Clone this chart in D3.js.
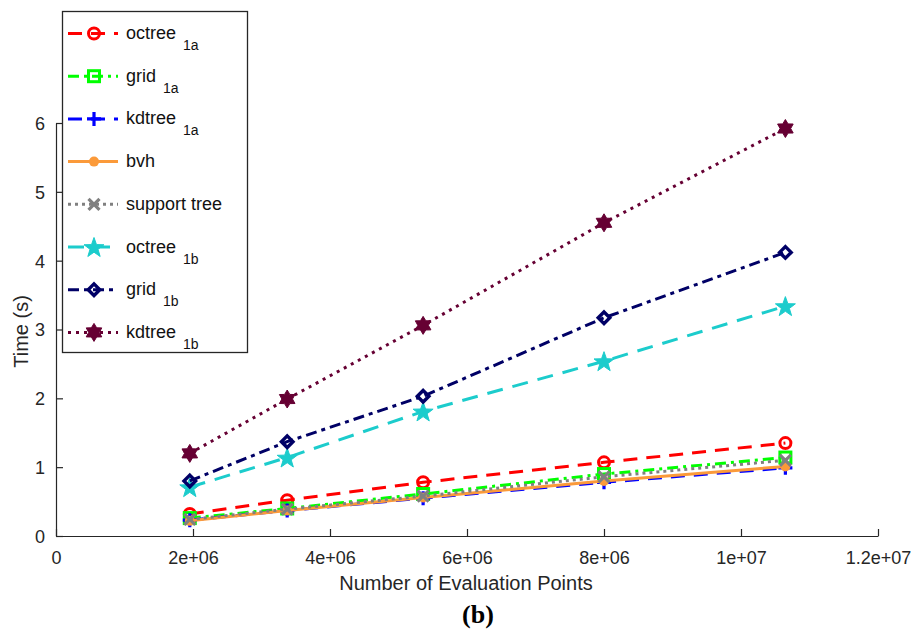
<!DOCTYPE html>
<html>
<head>
<meta charset="utf-8">
<script src="https://cdn.jsdelivr.net/npm/d3@7"></script>
<style>
  html, body { margin: 0; padding: 0; background: #fff; }
  svg { display: block; font-family: "Liberation Sans", Arial, Helvetica, sans-serif; }
</style>
</head>
<body>
<svg id="chart" width="912" height="634"></svg>
<script>
// Evaluation point counts (n^3 grids)
const evalPoints = [1953125, 3375000, 5359375, 8000000, 10648000];

// Timings in seconds for each method
const octree1a   = [0.32, 0.52, 0.78, 1.07, 1.35];
const grid1a     = [0.26, 0.40, 0.61, 0.90, 1.14];
const kdtree1a   = [0.23, 0.37, 0.55, 0.78, 0.99];
const bvh        = [0.22, 0.37, 0.56, 0.80, 1.01];
const supportTree= [0.24, 0.39, 0.58, 0.86, 1.10];
const octree1b   = [0.71, 1.14, 1.81, 2.54, 3.34];
const grid1b     = [0.80, 1.37, 2.03, 3.17, 4.12];
const kdtree1b   = [1.20, 1.99, 3.06, 4.55, 5.92];

const seriesNames = ["octree", "grid", "kdtree", "bvh", "support tree", "octree", "grid", "kdtree"];
const seriesSubs  = ["1a", "1a", "1a", "", "", "1b", "1b", "1b"];

const xTickValues = [0, 2e6, 4e6, 6e6, 8e6, 1e7, 1.2e7];
const xTickLabels = ["0", "2e+06", "4e+06", "6e+06", "8e+06", "1e+07", "1.2e+07"];
const yTickValues = [0, 1, 2, 3, 4, 5, 6];

const series = [
  { values: octree1a,    color: "#ff0000", dash: "14,9",      marker: "circle"   },
  { values: grid1a,      color: "#00ff00", dash: "11,5,3,5",  marker: "square"   },
  { values: kdtree1a,    color: "#0000ff", dash: "14,9",      marker: "plus"     },
  { values: bvh,         color: "#fb9a3a", dash: null,        marker: "dot"      },
  { values: supportTree, color: "#808080", dash: "3,4",       marker: "cross"    },
  { values: octree1b,    color: "#1ccccc", dash: "16,10",     marker: "star"     },
  { values: grid1b,      color: "#000066", dash: "11,5,4,5",  marker: "diamond"  },
  { values: kdtree1b,    color: "#660033", dash: "3,5",       marker: "hexagram" }
];

const svg = d3.select("#chart");
const axisColor = "#262626";

const x = d3.scaleLinear().domain([0, 1.2e7]).range([56, 878]);
const y = d3.scaleLinear().domain([0, 6]).range([536, 123]);

// ---------- axes (left and bottom only, inward ticks) ----------
const xAxis = d3.axisBottom(x)
  .tickValues(xTickValues)
  .tickFormat((d, i) => xTickLabels[i])
  .tickSizeInner(-7).tickSizeOuter(0).tickPadding(15);
const gx = svg.append("g").attr("transform", `translate(0,${y(0)})`).call(xAxis);

const yAxis = d3.axisLeft(y)
  .tickValues(yTickValues)
  .tickFormat(d3.format("d"))
  .tickSizeInner(-7).tickSizeOuter(0).tickPadding(11);
const gy = svg.append("g").attr("transform", `translate(${x(0)},0)`).call(yAxis);

[gx, gy].forEach(g => {
  g.select(".domain").attr("stroke", axisColor).attr("stroke-width", 1.2);
  g.selectAll(".tick line").attr("stroke", axisColor).attr("stroke-width", 1.2);
  g.selectAll(".tick text")
    .attr("fill", axisColor)
    .style("font-size", "18px")
    .style("font-family", "'Liberation Sans', Arial, sans-serif");
});
gy.selectAll(".tick text").attr("dy", "0.36em");

// axis titles
svg.append("text")
  .attr("x", 466).attr("y", 590)
  .attr("text-anchor", "middle")
  .attr("fill", axisColor)
  .style("font-size", "20px")
  .text("Number of Evaluation Points");

svg.append("text")
  .attr("transform", `translate(28,${(y(0) + y(6)) / 2 + 2}) rotate(-90)`)
  .attr("text-anchor", "middle")
  .attr("fill", axisColor)
  .style("font-size", "20px")
  .text("Time (s)");

svg.append("text")
  .attr("x", 478).attr("y", 623)
  .attr("text-anchor", "middle")
  .attr("fill", "#000")
  .style("font-family", "'Liberation Serif', 'Times New Roman', serif")
  .style("font-weight", "bold")
  .style("font-size", "26px")
  .text("(b)");

// ---------- marker shapes ----------
function starPath(points, rOuter, rInner) {
  const pts = [];
  for (let i = 0; i < points * 2; i++) {
    const r = i % 2 === 0 ? rOuter : rInner;
    const a = -Math.PI / 2 + i * Math.PI / points;
    pts.push([r * Math.cos(a), r * Math.sin(a)]);
  }
  return "M" + pts.map(p => p[0].toFixed(2) + "," + p[1].toFixed(2)).join("L") + "Z";
}

function drawMarker(g, kind, cx, cy, color) {
  const m = g.append("g").attr("transform", `translate(${cx},${cy})`);
  switch (kind) {
    case "circle":
      m.append("circle").attr("r", 5.5).attr("fill", "none")
        .attr("stroke", color).attr("stroke-width", 3);
      break;
    case "square":
      m.append("rect").attr("x", -5.5).attr("y", -5.5).attr("width", 11).attr("height", 11)
        .attr("fill", "none").attr("stroke", color).attr("stroke-width", 3);
      break;
    case "plus":
      m.append("path").attr("d", "M-7,0H7M0,-7V7")
        .attr("stroke", color).attr("stroke-width", 3.2).attr("fill", "none");
      break;
    case "dot":
      m.append("circle").attr("r", 5).attr("fill", color);
      break;
    case "cross":
      m.append("path").attr("d", "M-5.5,-5.5L5.5,5.5M-5.5,5.5L5.5,-5.5")
        .attr("stroke", color).attr("stroke-width", 3.2).attr("fill", "none");
      break;
    case "star":
      m.append("path").attr("d", starPath(5, 10.5, 4.2)).attr("transform", "translate(0,1)")
        .attr("fill", color).attr("stroke", color).attr("stroke-width", 1);
      break;
    case "diamond":
      m.append("path").attr("d", "M0,-5.8L5.8,0L0,5.8L-5.8,0Z")
        .attr("fill", "none").attr("stroke", color).attr("stroke-width", 3.4);
      break;
    case "hexagram":
      m.append("path").attr("d", starPath(6, 9, 5.3))
        .attr("fill", color).attr("stroke", color).attr("stroke-width", 1);
      break;
  }
}

// ---------- data lines with markers ----------
const line = d3.line().x((d, i) => x(evalPoints[i])).y(d => y(d));
const plot = svg.append("g");

series.forEach(s => {
  const g = plot.append("g");
  g.append("path")
    .attr("d", line(s.values))
    .attr("fill", "none")
    .attr("stroke", s.color)
    .attr("stroke-width", 3)
    .attr("stroke-dasharray", s.dash)
    .attr("stroke-linejoin", "round");
  s.values.forEach((v, i) => drawMarker(g, s.marker, x(evalPoints[i]), y(v), s.color));
});

// ---------- legend ----------
const legend = svg.append("g");
legend.append("rect")
  .attr("x", 62.5).attr("y", 11.5).attr("width", 185).attr("height", 341)
  .attr("fill", "#fff").attr("stroke", axisColor).attr("stroke-width", 1.3);

series.forEach((s, i) => {
  const ry = 33.5 + i * 42.7;
  const g = legend.append("g");
  g.append("line")
    .attr("x1", 68).attr("x2", 118).attr("y1", ry).attr("y2", ry)
    .attr("stroke", s.color).attr("stroke-width", 3)
    .attr("stroke-dasharray", s.dash);
  drawMarker(g, s.marker, 94, ry, s.color);
  const t = g.append("text")
    .attr("x", 126).attr("y", ry + 5.5)
    .attr("fill", "#111")
    .style("font-size", "18px")
    .text(seriesNames[i]);
  if (seriesSubs[i]) {
    t.append("tspan")
      .attr("dx", 7)
      .attr("dy", 11)
      .style("font-size", "14px")
      .text(seriesSubs[i]);
  }
});
</script>
</body>
</html>
